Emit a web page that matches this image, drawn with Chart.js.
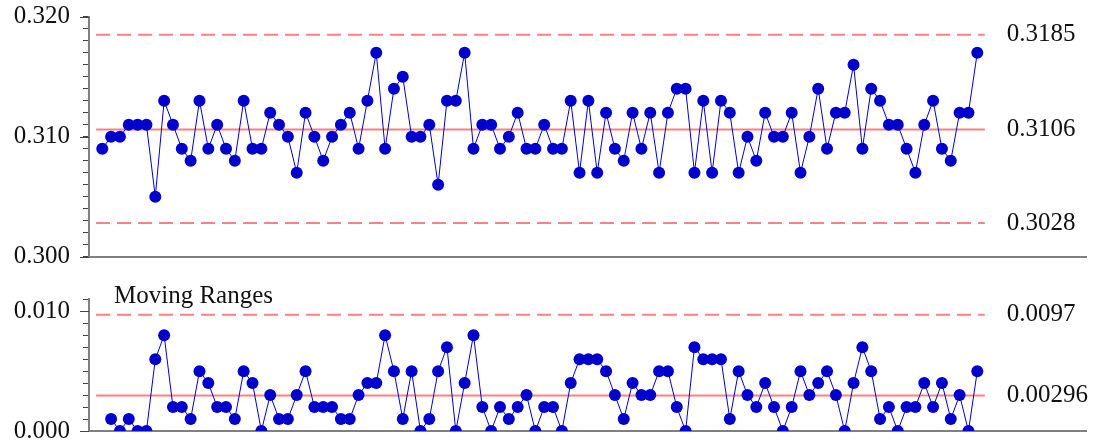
<!DOCTYPE html>
<html>
<head>
<meta charset="utf-8">
<script src="https://cdn.jsdelivr.net/npm/chart.js@4.4.1/dist/chart.umd.min.js"></script>
<style>
  body { margin: 0; background: #fff; }
  #wrap { position: relative; width: 1096px; height: 442px; }
  canvas { position: absolute; left: 0; }
</style>
</head>
<body>
<div id="wrap">
  <canvas id="indivChart" width="1096" height="270" style="top:0"></canvas>
  <canvas id="mrChart" width="1096" height="172" style="top:270px"></canvas>
</div>
<script>
// individual measurements, sample 1..100
var individuals = [
  0.309, 0.310, 0.310, 0.311, 0.311, 0.311, 0.305, 0.313, 0.311, 0.309,
  0.308, 0.313, 0.309, 0.311, 0.309, 0.308, 0.313, 0.309, 0.309, 0.312,
  0.311, 0.310, 0.307, 0.312, 0.310, 0.308, 0.310, 0.311, 0.312, 0.309,
  0.313, 0.317, 0.309, 0.314, 0.315, 0.310, 0.310, 0.311, 0.306, 0.313,
  0.313, 0.317, 0.309, 0.311, 0.311, 0.309, 0.310, 0.312, 0.309, 0.309,
  0.311, 0.309, 0.309, 0.313, 0.307, 0.313, 0.307, 0.312, 0.309, 0.308,
  0.312, 0.309, 0.312, 0.307, 0.312, 0.314, 0.314, 0.307, 0.313, 0.307,
  0.313, 0.312, 0.307, 0.310, 0.308, 0.312, 0.310, 0.310, 0.312, 0.307,
  0.310, 0.314, 0.309, 0.312, 0.312, 0.316, 0.309, 0.314, 0.313, 0.311,
  0.311, 0.309, 0.307, 0.311, 0.313, 0.309, 0.308, 0.312, 0.312, 0.317
];

// moving ranges, sample 2..100
var movingRanges = [
  0.001, 0.000, 0.001, 0.000, 0.000, 0.006, 0.008, 0.002, 0.002, 0.001,
  0.005, 0.004, 0.002, 0.002, 0.001, 0.005, 0.004, 0.000, 0.003, 0.001,
  0.001, 0.003, 0.005, 0.002, 0.002, 0.002, 0.001, 0.001, 0.003, 0.004,
  0.004, 0.008, 0.005, 0.001, 0.005, 0.000, 0.001, 0.005, 0.007, 0.000,
  0.004, 0.008, 0.002, 0.000, 0.002, 0.001, 0.002, 0.003, 0.000, 0.002,
  0.002, 0.000, 0.004, 0.006, 0.006, 0.006, 0.005, 0.003, 0.001, 0.004,
  0.003, 0.003, 0.005, 0.005, 0.002, 0.000, 0.007, 0.006, 0.006, 0.006,
  0.001, 0.005, 0.003, 0.002, 0.004, 0.002, 0.000, 0.002, 0.005, 0.003,
  0.004, 0.005, 0.003, 0.000, 0.004, 0.007, 0.005, 0.001, 0.002, 0.000,
  0.002, 0.002, 0.004, 0.002, 0.004, 0.001, 0.003, 0.000, 0.005
];

var indivLimits = [0.3185, 0.3106, 0.3028];
var indivLimitLabels = ['0.3185', '0.3106', '0.3028'];
var mrLimits = [0.0097, 0.00296];
var mrLimitLabels = ['0.0097', '0.00296'];

var indivTickLabels = [0.300, 0.310, 0.320];
var mrTickLabels = [0.000, 0.010];

// layout / style
var red = '#ff8080',
    blue = '#0000cd',
    axisGray = '#808080',
    textColor = '#111',
    fontFamily = "'Liberation Serif', 'DejaVu Serif', serif",
    fontSize = 25,
    xMin = -1.5, xMax = 111.3,
    lineFrom = -0.7, lineTo = 99.85;

Chart.defaults.font.family = fontFamily;
Chart.defaults.font.size = fontSize;
Chart.defaults.color = textColor;

function labelledTick(list) {
  return function(value) {
    for (var i = 0; i < list.length; i++) {
      if (Math.abs(value - list[i]) < 1e-7) return list[i].toFixed(3);
    }
    return '';
  };
}

function limitDatasets(values, dashed) {
  return values.map(function(v, i) {
    return {
      data: [{x: lineFrom, y: v}, {x: lineTo, y: v}],
      borderColor: red,
      borderWidth: 2,
      borderDash: dashed[i] ? [14, 7] : [],
      pointRadius: 0,
      order: 2
    };
  });
}

function extrasPlugin(values, labels, majors, title) {
  return {
    id: 'extras',
    afterDraw: function(chart) {
      var ctx = chart.ctx,
          xs = chart.scales.x,
          ys = chart.scales.y;
      ctx.save();
      // longer major ticks
      ctx.strokeStyle = '#444';
      ctx.lineWidth = 1;
      majors.forEach(function(v) {
        var y = Math.round(ys.getPixelForValue(v)) + 0.5;
        ctx.beginPath();
        ctx.moveTo(ys.right - 9, y);
        ctx.lineTo(ys.right, y);
        ctx.stroke();
      });
      ctx.fillStyle = textColor;
      ctx.font = fontSize + 'px ' + fontFamily;
      ctx.textBaseline = 'middle';
      ctx.textAlign = 'left';
      values.forEach(function(v, i) {
        ctx.fillText(labels[i], xs.getPixelForValue(lineTo) + 22, ys.getPixelForValue(v));
      });
      if (title) {
        ctx.textBaseline = 'alphabetic';
        ctx.fillText(title, chart.chartArea.left + 25, chart.chartArea.top + 4);
      }
      ctx.restore();
    }
  };
}

function makeOptions(yMin, yMax, tickList, pad) {
  return {
    responsive: false,
    devicePixelRatio: 1,
    animation: false,
    layout: { padding: pad },
    plugins: { legend: { display: false }, tooltip: { enabled: false } },
    scales: {
      x: {
        type: 'linear',
        min: xMin,
        max: xMax,
        ticks: { display: false },
        grid: { display: false, drawTicks: false },
        border: { display: true, color: axisGray, width: 2 },
        afterFit: function(s) {
          s.height = 0;
          s.paddingLeft = 0; s.paddingRight = 0;
        }
      },
      y: {
        min: yMin,
        max: yMax,
        ticks: {
          stepSize: 0.001,
          autoSkip: false,
          padding: 13,
          color: textColor,
          font: { size: fontSize },
          callback: labelledTick(tickList)
        },
        grid: {
          drawOnChartArea: false,
          tickLength: 6,
          tickColor: '#444',
          tickWidth: 1
        },
        border: { display: true, color: axisGray, width: 2 },
        afterFit: function(s) {
          s.width = 89;
          s.paddingTop = 0; s.paddingBottom = 0;
        }
      }
    }
  };
}

var indivSeries = {
  data: individuals.map(function(v, i) { return {x: i, y: v}; }),
  borderColor: blue,
  borderWidth: 1,
  backgroundColor: blue,
  pointRadius: 6,
  pointHoverRadius: 6,
  pointBorderWidth: 0,
  tension: 0,
  order: 1
};

var mrSeries = {
  data: movingRanges.map(function(v, i) { return {x: i + 1, y: v}; }),
  borderColor: blue,
  borderWidth: 1,
  backgroundColor: blue,
  pointRadius: 6,
  pointHoverRadius: 6,
  pointBorderWidth: 0,
  tension: 0,
  order: 1
};

new Chart(document.getElementById('indivChart'), {
  type: 'line',
  data: { datasets: [indivSeries].concat(limitDatasets(indivLimits, [true, false, true])) },
  options: makeOptions(0.300, 0.320, indivTickLabels, {top: 16.7, bottom: 13.3, left: 0, right: 10}),
  plugins: [extrasPlugin(indivLimits, indivLimitLabels, indivTickLabels, null)]
});

new Chart(document.getElementById('mrChart'), {
  type: 'line',
  data: { datasets: [mrSeries].concat(limitDatasets(mrLimits, [true, false])) },
  options: makeOptions(0.000, 0.011, mrTickLabels, {top: 29.3, bottom: 11, left: 0, right: 10}),
  plugins: [extrasPlugin(mrLimits, mrLimitLabels, mrTickLabels, 'Moving Ranges')]
});
</script>
</body>
</html>
